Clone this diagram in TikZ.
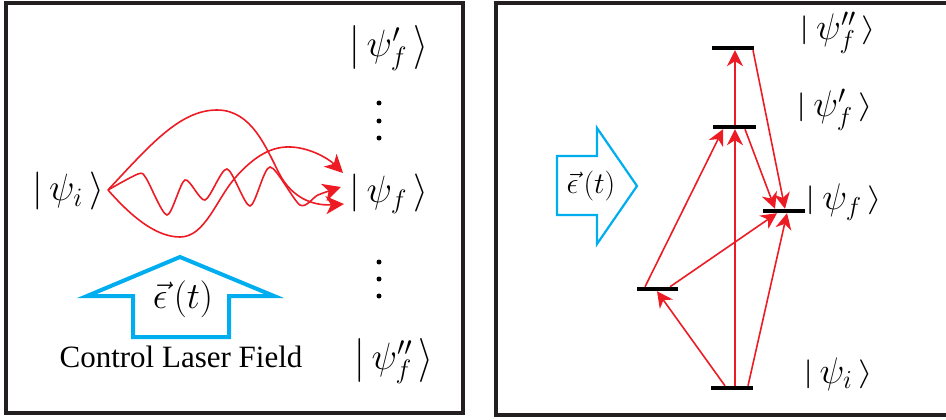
\RequirePackage{fix-cm}
\documentclass[tikz,border=0pt]{standalone}
\usepackage[no-math]{fontspec}
\setmainfont{Liberation Serif}
\newfontfamily\labelserif{Liberation Serif}
\usetikzlibrary{arrows.meta,calc}
\definecolor{laserred}{HTML}{ED1C24}
\definecolor{fieldblue}{HTML}{00AEEF}
\definecolor{framegray}{HTML}{231F20}
% ket with vertically scaled delimiters
\newcommand\myket[2]{\mathopen{\vcenter{\hbox{\scalebox{1}[#1]{$\bigl|$}}}}\,#2\,\mathclose{\vcenter{\hbox{\scalebox{1}[#1]{$\bigr\rangle$}}}}}
\tikzset{
  frame/.style={draw=framegray, line width=4pt},
  ketL/.style={inner sep=0pt, font=\fontsize{38}{44}\selectfont},
  ketR/.style={inner sep=0pt, font=\fontsize{37}{44}\selectfont},
  dotsnode/.style={inner sep=0pt, circle, fill=black, minimum size=5pt},
  pathway/.style={draw=laserred, line width=1.6pt, -{Stealth[length=18pt,width=18pt,inset=5pt]}},
  transition/.style={draw=laserred, line width=1.6pt, -{Stealth[length=16pt,width=16pt,inset=5pt]}},
  levelbar/.style={inner sep=0pt, fill=black, minimum height=4pt},
  fieldarrow/.style={draw=fieldblue, line join=miter},
  textlabel/.style={inner sep=0pt, font=\labelserif\fontsize{31}{36}\selectfont},
}
\begin{document}
\begin{tikzpicture}[x=1pt,y=-1pt]
\useasboundingbox (0,0) rectangle (946,420);
% frames
\draw[frame] (6,3) rectangle (463,413);
\draw[frame] (496,3) rectangle (962,415);

% ---------- left panel ----------
\node[ketL] (iL) at (68,191) {$\myket{1}{\psi_i}$};
\node[ketL] (fpL) at (389,48) {$\myket{1.16}{\psi'_f}$};
\node[ketL] (fL) at (389,194) {$\myket{1}{\psi_f}$};
\node[ketL] (fppL) at (394,361) {$\myket{1.16}{\psi''_f}$};
\node[dotsnode] (d1) at (379,103) {};
\node[dotsnode] (d2) at (379,121) {};
\node[dotsnode] (d3) at (379,138) {};
\node[dotsnode] (d4) at (379,262) {};
\node[dotsnode] (d5) at (379,279) {};
\node[dotsnode] (d6) at (379,296) {};

\coordinate (start) at (108,190);
\coordinate (tipA) at (343,173);
\coordinate (tipC) at (344,204);
% upper arc
\draw[pathway] (start) .. controls (150,145) and (180,110) .. (217,110)
  .. controls (252,110) and (266,148) .. (280,175)
  .. controls (292,197) and (312,206) .. (tipC);
% lower arc
\draw[pathway] (start) .. controls (130,215) and (155,237) .. (180,237)
  .. controls (205,237) and (216,200) .. (235,178)
  .. controls (255,155) and (273,146) .. (291,147)
  .. controls (312,148) and (330,160) .. (tipA);
% wavy path
\draw[pathway] plot[smooth, tension=0.45] coordinates {(108,190) (138,174) (146,178) (167,215) (185,180) (205,200) (227,169) (250,206) (270,167) (300,205) (318,195) (341,187)};

% control field arrow
\draw[fieldarrow, line width=4pt] (180,257) -- (274,296) -- (229,296) -- (229,337) -- (133,337) -- (133,296) -- (87,296) -- cycle;
\node[inner sep=0pt, font=\fontsize{37}{42}\selectfont] (epsL) at (183,299) {$\vec{\epsilon}\,(t)$};
\node[textlabel] (ctrl) at (181,357) {Control Laser Field};

% ---------- right panel ----------
\node[levelbar, minimum width=42pt] (Li) at (732,388) {};
\node[levelbar, minimum width=41pt] (Lm) at (657.5,289) {};
\node[levelbar, minimum width=42pt] (Lf) at (784,211) {};
\node[levelbar, minimum width=43pt] (L1) at (734.5,127) {};
\node[levelbar, minimum width=42pt] (L2) at (733,48) {};

\node[ketR] (fppR) at (838,33) {$\myket{0.78}{\psi''_f}$};
\node[ketR] (fpR) at (835,110) {$\myket{0.78}{\psi'_f}$};
\node[ketR] (fR) at (844,202) {$\myket{0.78}{\psi_f}$};
\node[ketR] (iR) at (838,374) {$\myket{0.78}{\psi_i}$};

\draw[transition] ([xshift=3pt]Li.north) -- ([xshift=0.5pt]L1.south);
\draw[transition] ([xshift=0.5pt]L1.north) -- ([xshift=2pt]L2.south);
\draw[transition] ([xshift=-7pt]Li.north) -- ([xshift=-0.5pt]Lm.south);
\draw[transition] ([xshift=-12.5pt]Lm.north) -- ([xshift=-11.5pt]L1.south);
\draw[transition] ([xshift=12.5pt]Lm.north) -- ([xshift=-7pt]Lf.south);
\draw[transition] ([xshift=16pt]Li.north) -- ([xshift=3pt]Lf.south);
\draw[transition] ([xshift=10.5pt]L1.south) -- ([xshift=-9pt]Lf.north);
\draw[transition] ([xshift=20pt]L2.south) -- ([xshift=1pt]Lf.north);

% field arrow right
\draw[fieldarrow, line width=2.2pt] (557,156) -- (597,156) -- (597,128) -- (637,186) -- (597,244) -- (597,215) -- (557,215) -- cycle;
\node[inner sep=0pt, font=\fontsize{30}{34}\selectfont] (epsR) at (591,186) {$\vec{\epsilon}\,(t)$};
\end{tikzpicture}
\end{document}
